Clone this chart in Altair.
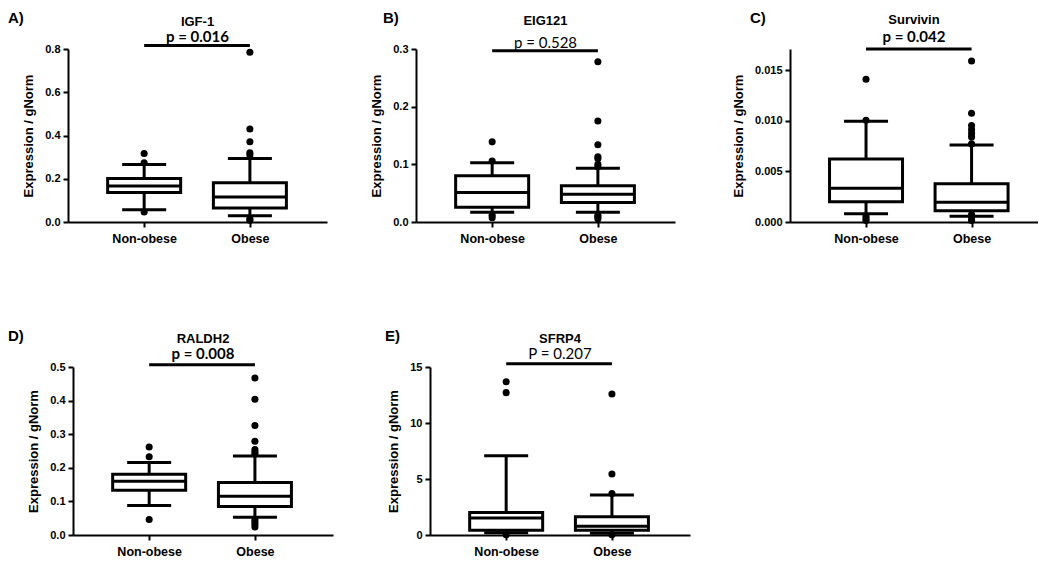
import altair as alt
import pandas as pd

# ---------------- data ----------------
groups = ["Non-obese", "Obese"]
letters = ["A)", "B)", "C)", "D)", "E)"]
genes = ["IGF-1", "EIG121", "Survivin", "RALDH2", "SFRP4"]
p_texts = ["p = 0.016", "p = 0.528", "p = 0.042", "p = 0.008", "P = 0.207"]
p_bold = [True, False, True, True, False]
y_title = "Expression / gNorm"

# box statistics per group: [lower whisker, Q1, median, Q3, upper whisker]
igf1_nonobese = [0.057, 0.136, 0.166, 0.201, 0.266]
igf1_obese = [0.029, 0.065, 0.116, 0.181, 0.294]
igf1_out_nonobese = [0.317, 0.274, 0.046]
igf1_out_obese = [0.785, 0.430, 0.371, 0.320, 0.310, 0.015, 0.008]

eig121_nonobese = [0.0168, 0.0255, 0.051, 0.0801, 0.1027]
eig121_obese = [0.0168, 0.0337, 0.048, 0.0627, 0.0934]
eig121_out_nonobese = [0.139, 0.1056, 0.0116, 0.0075]
eig121_out_obese = [0.278, 0.175, 0.134, 0.113, 0.110, 0.100, 0.096, 0.0116, 0.0087, 0.0058]

survivin_nonobese = [0.00082, 0.00201, 0.00333, 0.00623, 0.00996]
survivin_obese = [0.00056, 0.00112, 0.00195, 0.00379, 0.00762]
survivin_out_nonobese = [0.01411, 0.01006, 0.00056, 0.00033, 0.00016]
survivin_out_obese = [0.01592, 0.01075, 0.00953, 0.00913, 0.00874, 0.00841, 0.00772, 0.00073, 0.0004, 0.00016]

raldh2_nonobese = [0.088, 0.133, 0.160, 0.181, 0.216]
raldh2_obese = [0.053, 0.085, 0.115, 0.156, 0.235]
raldh2_out_nonobese = [0.262, 0.233, 0.046]
raldh2_out_obese = [0.467, 0.404, 0.326, 0.279, 0.254, 0.247, 0.241, 0.046, 0.039, 0.032, 0.024]

sfrp4_nonobese = [0.2, 0.435, 1.51, 2.0, 7.08]
sfrp4_obese = [0.15, 0.435, 0.78, 1.62, 3.57]
sfrp4_out_nonobese = [13.69, 12.71, 0.02]
sfrp4_out_obese = [12.59, 5.45, 3.71, 0.02]

# significance bar heights
sig_levels = [0.816, 0.297, 0.0171, 0.507, 15.3]
# y axis maxima and tick values
y_max = [0.8, 0.3, 0.0171, 0.5, 15]
y_ticks = [[0, 0.2, 0.4, 0.6, 0.8], [0, 0.1, 0.2, 0.3], [0, 0.005, 0.010, 0.015],
           [0, 0.1, 0.2, 0.3, 0.4, 0.5], [0, 5, 10, 15]]
y_formats = [".1f", ".1f", ".3f", ".1f", "d"]

BLACK = "#000000"
LABEL_FONT = "Liberation Sans"
P_FONT = "Lato"

label_expr = "[" + ",".join("'%s'" % g for g in groups) + "][datum.value - 1]"


def panel(i, stats, outs, width, height, xmax, lx, ly, gy, py, title_pad):
    positions = list(range(1, len(groups) + 1))
    box_df = pd.DataFrame({
        "group": groups,
        "pos": positions,
        "wlo": [s[0] for s in stats],
        "q1": [s[1] for s in stats],
        "med": [s[2] for s in stats],
        "q3": [s[3] for s in stats],
        "whi": [s[4] for s in stats],
    })
    out_rows = []
    for p, vals in zip(positions, outs):
        for v in vals:
            out_rows.append({"pos": p, "val": v})
    out_df = pd.DataFrame(out_rows)
    sig_df = pd.DataFrame({"x1": [positions[0]], "x2": [positions[-1]], "y": [sig_levels[i]]})
    txt_df = pd.DataFrame({"letter": [letters[i]], "gene": [genes[i]], "p": [p_texts[i]]})

    xs = alt.Scale(domain=[0.327, xmax], nice=False, zero=False)
    ys = alt.Scale(domain=[0, y_max[i]], nice=False, zero=True)
    xa = alt.Axis(values=positions, labelExpr=label_expr, title=None, grid=False,
                  labelFontSize=12.5, labelPadding=5, labelFlush=False)
    ya = alt.Axis(values=y_ticks[i], format=y_formats[i], title=y_title, grid=False,
                  labelFontSize=11, labelPadding=3, titlePadding=title_pad,
                  titleFontSize=13, titleFont=LABEL_FONT, titleFontWeight="bold",
                  titleColor=BLACK)

    def X(f):
        return alt.X(f, type="quantitative", scale=xs, axis=xa)

    def Y(f):
        return alt.Y(f, type="quantitative", scale=ys, axis=ya)

    base = alt.Chart(box_df)
    w_hi = base.mark_rule(strokeWidth=3, color=BLACK).encode(x=X("pos"), y=Y("q3"), y2="whi")
    w_lo = base.mark_rule(strokeWidth=3, color=BLACK).encode(x=X("pos"), y=Y("wlo"), y2="q1")
    box = base.mark_bar(size=73, fill="white", stroke=BLACK, strokeWidth=3).encode(
        x=X("pos"), y=Y("q1"), y2="q3")
    med = base.mark_tick(orient="horizontal", size=73, thickness=3, color=BLACK, opacity=1).encode(
        x=X("pos"), y=Y("med"))
    cap_hi = base.mark_tick(orient="horizontal", size=44, thickness=3, color=BLACK, opacity=1).encode(
        x=X("pos"), y=Y("whi"))
    cap_lo = base.mark_tick(orient="horizontal", size=44, thickness=3, color=BLACK, opacity=1).encode(
        x=X("pos"), y=Y("wlo"))
    dots = alt.Chart(out_df).mark_circle(size=50, color=BLACK, opacity=1).encode(
        x=X("pos"), y=Y("val"))
    sig = alt.Chart(sig_df).mark_rule(strokeWidth=3, color=BLACK).encode(
        x=X("x1"), x2="x2", y=Y("y"))
    tbase = alt.Chart(txt_df)
    let = tbase.mark_text(align="left", baseline="middle", fontSize=15,
                          fontWeight="bold", font=LABEL_FONT, color=BLACK).encode(
        x=alt.value(lx), y=alt.value(ly), text="letter:N")
    gene = tbase.mark_text(align="center", baseline="middle", fontSize=13,
                           fontWeight="bold", font=LABEL_FONT, color=BLACK).encode(
        x=alt.value(width / 2), y=alt.value(gy), text="gene:N")
    pval = tbase.mark_text(align="center", baseline="middle", fontSize=15,
                           fontWeight="bold" if p_bold[i] else "normal", font=P_FONT,
                           color=BLACK).encode(
        x=alt.value(width / 2), y=alt.value(py), text="p:N")

    return alt.layer(w_hi, w_lo, box, med, cap_hi, cap_lo, dots, sig, let, gene, pval).properties(
        width=width, height=height)


def spacer(w, h):
    return alt.Chart(pd.DataFrame({"v": [0]})).mark_point(opacity=0).encode(
        x=alt.X("v:Q", axis=None), y=alt.Y("v:Q", axis=None)).properties(width=w, height=h)


TOP_H = 173
BOT_H = 168

pA = panel(0, [igf1_nonobese, igf1_obese], [igf1_out_nonobese, igf1_out_obese],
           259, TOP_H, 2.682, -60, -31, -27, -12, 9)
pB = panel(1, [eig121_nonobese, eig121_obese], [eig121_out_nonobese, eig121_out_obese],
           259, TOP_H, 2.682, -33, -31, -28, -6, 9)
pC = panel(2, [survivin_nonobese, survivin_obese], [survivin_out_nonobese, survivin_out_obese],
           248, TOP_H, 2.582, -40, -31, -29, -12, 9)
pD = panel(3, [raldh2_nonobese, raldh2_obese], [raldh2_out_nonobese, raldh2_out_obese],
           260, BOT_H, 2.691, -65, -31, -28, -13, 9)
pE = panel(4, [sfrp4_nonobese, sfrp4_obese], [sfrp4_out_nonobese, sfrp4_out_obese],
           260, BOT_H, 2.691, -45, -31, -28, -13, 9)

top = alt.hconcat(pA, spacer(89, TOP_H), pB, spacer(115, TOP_H), pC, spacing=0, bounds="flush")
bottom = alt.hconcat(spacer(5, BOT_H), pD, spacer(97, BOT_H), pE, spacing=0, bounds="flush")

chart = alt.vconcat(top, bottom, spacing=84).properties(
    padding={"left": 0, "top": 3, "right": 0, "bottom": 0}, background="white"
).configure_view(stroke=None).configure_axis(
    domainColor=BLACK, domainWidth=2, tickColor=BLACK, tickWidth=2, tickSize=5,
    labelColor=BLACK, labelFont=LABEL_FONT, labelFontWeight="bold", grid=False
)

chart.save("out.html", embed_options={"renderer": "svg", "actions": False})
